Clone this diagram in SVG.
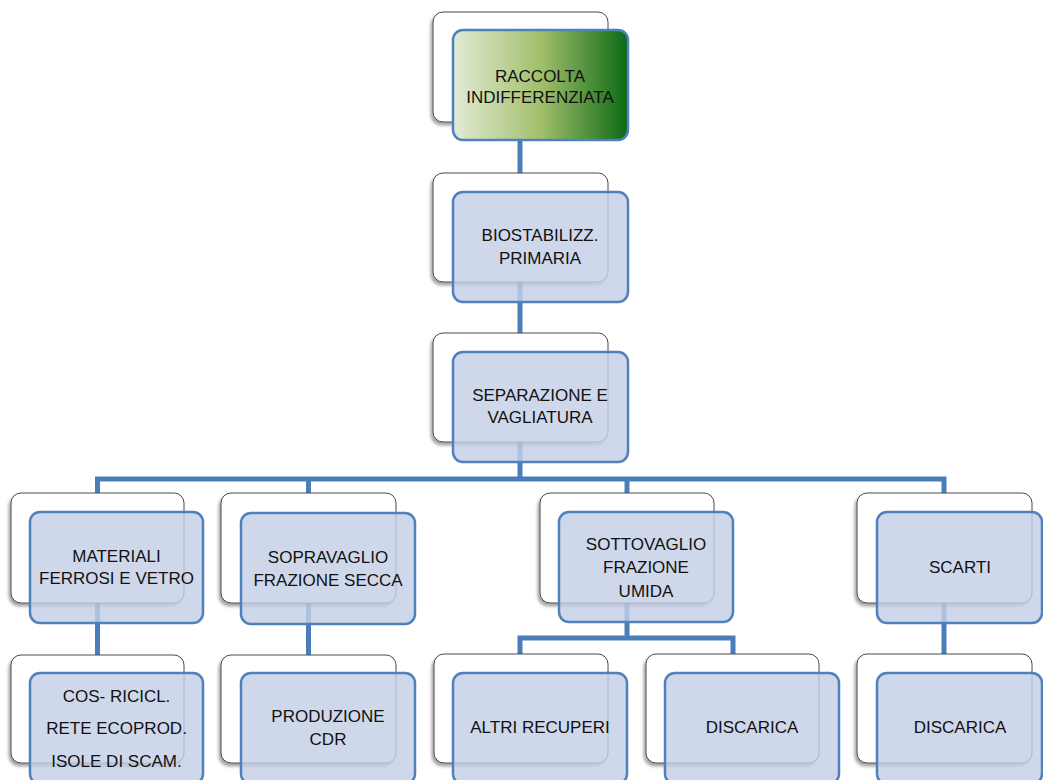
<svg xmlns="http://www.w3.org/2000/svg" width="1043" height="780" viewBox="0 0 1043 780">
  <defs>
    <linearGradient id="green" x1="0" y1="0" x2="1" y2="0">
      <stop offset="0" stop-color="#e2ebd6"/>
      <stop offset="0.5" stop-color="#a3bf6c"/>
      <stop offset="1" stop-color="#0c6a14"/>
    </linearGradient>
    <filter id="sh" x="-10%" y="-10%" width="120%" height="130%">
      <feDropShadow dx="-2" dy="3" stdDeviation="1.5" flood-color="#000" flood-opacity="0.35"/>
    </filter>
    <style>
      .back { fill: #ffffff; stroke: #4a4a4a; stroke-width: 1; filter: url(#sh); }
      .front { fill: #c4cfe5; fill-opacity: 0.82; stroke: #4f81bd; stroke-width: 2.5; }
      .top { fill: url(#green); stroke: #4f81bd; stroke-width: 2.5; }
      .conn { fill: none; stroke: #4a7ebb; stroke-width: 5; stroke-linejoin: miter; stroke-linecap: butt; }
      text { font-family: "Liberation Sans", Arial, sans-serif; font-size: 17px; fill: #111; text-anchor: middle; }
    </style>
  </defs>
  <rect width="1043" height="780" fill="#ffffff"/>

  <g id="connectors">
    <path class="conn" d="M520,122 V173"/>
    <path class="conn" d="M520,282 V333"/>
    <path class="conn" d="M520,442 V479"/>
    <path class="conn" d="M97.5,494 V479 H944 V494"/>
    <path class="conn" d="M308.5,479 V494"/>
    <path class="conn" d="M627,479 V494"/>
    <path class="conn" d="M97.5,603 V656"/>
    <path class="conn" d="M308.5,603 V656"/>
    <path class="conn" d="M627,603 V638"/>
    <path class="conn" d="M520,655 V638 H733 V655"/>
    <path class="conn" d="M944,603 V655"/>
  </g>

  <g id="node-raccolta">
    <rect class="back" x="433" y="12" width="175" height="110" rx="10"/>
    <rect class="top" x="453" y="30" width="175" height="110" rx="10"/>
    <text x="540" y="82">RACCOLTA</text>
    <text x="540" y="103">INDIFFERENZIATA</text>
  </g>

  <g id="node-biostabilizz">
    <rect class="back" x="433" y="173" width="175" height="109" rx="10"/>
    <rect class="front" x="453" y="192" width="175" height="110" rx="10"/>
    <text x="540" y="241">BIOSTABILIZZ.</text>
    <text x="540" y="264">PRIMARIA</text>
  </g>

  <g id="node-separazione">
    <rect class="back" x="433" y="333" width="175" height="109" rx="10"/>
    <rect class="front" x="453" y="352" width="175" height="110" rx="10"/>
    <text x="540" y="401">SEPARAZIONE E</text>
    <text x="540" y="423">VAGLIATURA</text>
  </g>

  <g id="node-materiali">
    <rect class="back" x="11" y="493" width="173" height="110" rx="10"/>
    <rect class="front" x="30" y="512" width="173" height="111" rx="10"/>
    <text x="116.5" y="562">MATERIALI</text>
    <text x="116.5" y="584">FERROSI E VETRO</text>
  </g>

  <g id="node-sopravaglio">
    <rect class="back" x="221" y="493" width="175" height="110" rx="10"/>
    <rect class="front" x="241" y="513" width="174" height="111" rx="10"/>
    <text x="328" y="563">SOPRAVAGLIO</text>
    <text x="328" y="586">FRAZIONE SECCA</text>
  </g>

  <g id="node-sottovaglio">
    <rect class="back" x="540" y="493" width="174" height="110" rx="10"/>
    <rect class="front" x="559" y="512" width="174" height="110" rx="10"/>
    <text x="646" y="550">SOTTOVAGLIO</text>
    <text x="646" y="573">FRAZIONE</text>
    <text x="646" y="597">UMIDA</text>
  </g>

  <g id="node-scarti">
    <rect class="back" x="857" y="493" width="175" height="110" rx="10"/>
    <rect class="front" x="877" y="512" width="165" height="111" rx="10"/>
    <text x="960" y="573">SCARTI</text>
  </g>

  <g id="node-cos">
    <rect class="back" x="11" y="655" width="173" height="108" rx="10"/>
    <rect class="front" x="30" y="673" width="173" height="111" rx="10"/>
    <text x="116.5" y="702">COS- RICICL.</text>
    <text x="116.5" y="734">RETE ECOPROD.</text>
    <text x="116.5" y="767">ISOLE DI SCAM.</text>
  </g>

  <g id="node-produzione">
    <rect class="back" x="221" y="655" width="175" height="108" rx="10"/>
    <rect class="front" x="241" y="673" width="174" height="111" rx="10"/>
    <text x="328" y="722">PRODUZIONE</text>
    <text x="328" y="745">CDR</text>
  </g>

  <g id="node-altri">
    <rect class="back" x="434" y="654" width="174" height="109" rx="10"/>
    <rect class="front" x="453" y="673" width="174" height="111" rx="10"/>
    <text x="540" y="733">ALTRI RECUPERI</text>
  </g>

  <g id="node-discarica-1">
    <rect class="back" x="646" y="654" width="173" height="109" rx="10"/>
    <rect class="front" x="665" y="673" width="174" height="111" rx="10"/>
    <text x="752" y="733">DISCARICA</text>
  </g>

  <g id="node-discarica-2">
    <rect class="back" x="857" y="654" width="175" height="109" rx="10"/>
    <rect class="front" x="877" y="673" width="165" height="111" rx="10"/>
    <text x="960" y="733">DISCARICA</text>
  </g>
</svg>
